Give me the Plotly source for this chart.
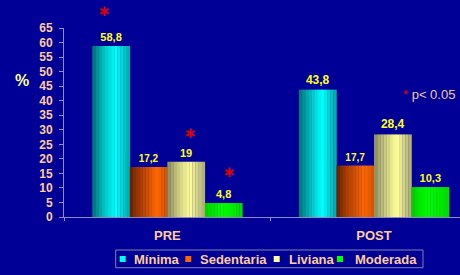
import plotly.graph_objects as go

# ---- data ----
categories = ["PRE", "POST"]
series_names = ["Mínima", "Sedentaria", "Liviana", "Moderada"]
minima = [58.8, 43.8]
sedentaria = [17.2, 17.7]
liviana = [19.0, 28.4]
moderada = [4.8, 10.3]
y_ticks = list(range(0, 70, 5))
sig_note = "p< 0.05"

series_values = [minima, sedentaria, liviana, moderada]

# ---- style ----
BG = "#000096"
TICK_COL = "#FFCC99"
AXIS_COL = "#8C8CC0"
FONT = "Liberation Sans, Arial, sans-serif"
# (left dark, peak bright, right edge, peak position)
grad = [
    ("#006a6a", "#00ffff", "#00a4a4", 0.62),
    ("#5e1a00", "#ff6600", "#d05400", 0.72),
    ("#85855a", "#ffff99", "#a8a874", 0.60),
    ("#00c800", "#00ff00", "#00d800", 0.45),
]
legend_cols = ["#00ffff", "#ff6600", "#ffff99", "#00ff00"]
label_sizes = [[11, 12], [10, 10], [11, 12], [11, 11]]

group_w = 0.726
bar_w = group_w / 4
N = 12


def hx(c):
    c = c.lstrip("#")
    return [int(c[i:i + 2], 16) for i in (0, 2, 4)]


def mix(a, b, f):
    a, b = hx(a), hx(b)
    return "rgb(%d,%d,%d)" % tuple(round(a[i] + (b[i] - a[i]) * f) for i in range(3))


def fmt(v):
    s = ("%.1f" % v).rstrip("0").rstrip(".")
    return s.replace(".", ",")


fig = go.Figure()
for k, vals in enumerate(series_values):
    left = -group_w / 2 + k * bar_w
    dark, peak, right, tp = grad[k]
    sw = bar_w / N
    for j in range(N):
        t = (j + 0.5) / N
        if t < tp:
            col = mix(dark, peak, (t / tp) ** 0.8)
        else:
            col = mix(peak, right, (t - tp) / (1 - tp))
        fig.add_trace(go.Bar(
            x=categories, y=vals, offset=left + j * sw, width=sw * 1.08,
            marker=dict(color=col, line=dict(width=0)),
            showlegend=False, hoverinfo="skip"))
    # transparent full bar carrying value label
    fig.add_trace(go.Bar(
        x=categories, y=vals, offset=left, width=bar_w, name=series_names[k],
        marker=dict(color="rgba(0,0,0,0)", line=dict(width=0)),
        text=[fmt(v) for v in vals], textposition="outside", cliponaxis=False,
        constraintext="none",
        textfont=dict(color="#FFFF22", size=label_sizes[k], family=FONT, weight="bold"),
        showlegend=False))

fig.update_layout(
    barmode="overlay",
    width=460, height=275,
    margin=dict(l=64, r=0, t=28, b=58),
    paper_bgcolor=BG, plot_bgcolor=BG,
    font=dict(family=FONT, color=TICK_COL),
    showlegend=False,
)
fig.update_xaxes(
    type="category", range=[-0.5, 1.416], showgrid=False, zeroline=False,
    showline=True, linecolor=AXIS_COL, linewidth=1,
    ticks="outside", tickson="boundaries", ticklen=3, tickcolor=AXIS_COL,
    tickfont=dict(size=13, color=TICK_COL, family=FONT, weight="bold"),
    ticklabelstandoff=6,
)
fig.update_yaxes(
    range=[0, 65], tickvals=y_ticks, showgrid=False, zeroline=False,
    showline=True, linecolor=AXIS_COL, linewidth=1,
    ticks="outside", ticklen=4, tickcolor=AXIS_COL,
    tickfont=dict(size=12, color=TICK_COL, family=FONT, weight="bold"),
    ticklabelstandoff=4,
)

PW, PH, X0, Y0 = 396.0, 189.0, 64.0, 217.0


def px(x):
    return (x - X0) / PW


def py(y):
    return (Y0 - y) / PH


ann = []
# percent axis label
ann.append(dict(text="%", x=px(13), y=py(70), xref="paper", yref="paper",
                showarrow=False, font=dict(size=16, color="#FFFF99", family=FONT, weight="bold")))
# significance asterisks
ast_font = dict(size=15, color="#E00000", family="DejaVu Sans", weight="bold")
ann.append(dict(text="∗", x=px(104.3), y=py(0), xref="paper", yref="paper",
                showarrow=False, xanchor="center", yanchor="top", font=ast_font))
for (ax, ay) in [(190.7, 133.3), (229.3, 171.7)]:
    ann.append(dict(text="∗", x=px(ax), y=py(ay), xref="paper", yref="paper",
                    showarrow=False, xanchor="center", yanchor="middle", font=ast_font))
ann.append(dict(text="<span style='color:#E00000'>*</span> " + sig_note,
                x=px(457), y=py(94), xref="paper", yref="paper", showarrow=False,
                xanchor="right", yanchor="middle",
                font=dict(size=13, color="#F0C8A8", family=FONT)))

# manual legend
shapes = [dict(type="rect", xref="paper", yref="paper",
               x0=px(115.7), x1=px(423), y0=py(250), y1=py(267.7),
               line=dict(color="#8080B0", width=1), fillcolor="rgba(0,0,0,0)")]
sq_x = [122.7, 188.3, 276.7, 340.0]
tx_x = [131.5, 197.5, 286.5, 352.5]
ly = 259.0
for i, name in enumerate(series_names):
    shapes.append(dict(type="rect", xref="paper", yref="paper",
                       x0=px(sq_x[i] - 3), x1=px(sq_x[i] + 3), y0=py(ly + 3), y1=py(ly - 3),
                       line=dict(width=0), fillcolor=legend_cols[i]))
    ann.append(dict(text=name, x=px(tx_x[i]), y=py(ly), xref="paper", yref="paper",
                    showarrow=False, xanchor="left", yanchor="middle",
                    font=dict(size=13, color=TICK_COL, family=FONT, weight="bold")))

fig.update_layout(annotations=ann, shapes=shapes)
fig.write_html("out.html")
